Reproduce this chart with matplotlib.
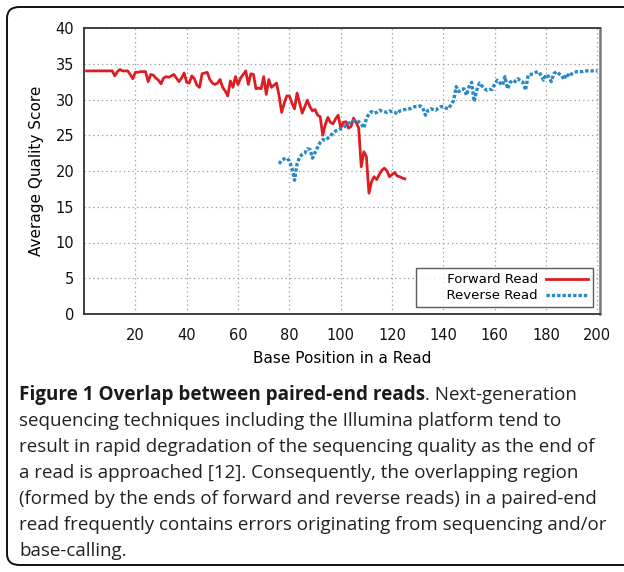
import matplotlib
matplotlib.use("Agg")
import matplotlib.pyplot as plt
from matplotlib.patches import FancyBboxPatch

# forward read, positions 1..125
fwd_pos = list(range(1, 126))
fwd_q = [34.0, 34.0, 34.0, 34.0, 34.0, 34.0, 34.0, 34.0, 34.0, 34.0,
         34.0, 33.3, 33.9, 34.2, 34.0, 34.0, 34.0, 33.5, 32.9, 33.8,
         33.8, 33.9, 33.9, 33.9, 32.5, 33.5, 33.4, 33.0, 32.7, 32.2,
         33.0, 33.2, 33.1, 33.3, 33.5, 33.0, 32.5, 33.0, 33.7, 32.4,
         32.3, 33.3, 32.9, 32.0, 31.7, 33.6, 33.7, 33.8, 32.8, 32.3,
         32.1, 32.3, 32.8, 31.7, 31.2, 30.5, 32.6, 31.7, 33.2, 32.1,
         33.0, 33.5, 34.0, 32.1, 33.6, 33.5, 31.5, 31.6, 31.5, 33.2,
         30.7, 32.8, 31.7, 32.0, 32.3, 30.5, 28.2, 29.5, 30.5, 30.5,
         29.5, 28.7, 30.9, 29.5, 28.1, 29.0, 29.9, 29.0, 28.4, 28.6,
         27.8, 27.6, 25.0, 26.5, 27.5, 26.8, 26.6, 27.3, 27.8, 26.0,
         26.8, 26.9, 26.0, 26.2, 27.4, 26.8, 26.0, 20.6, 22.7, 22.0,
         16.9, 18.5, 19.2, 18.8, 19.5, 20.1, 20.4, 20.0, 19.2, 19.5,
         19.8, 19.3, 19.2, 19.0, 18.9]

# reverse read, positions 76..200
rev_pos = list(range(76, 201))
rev_q = [21.0, 21.5, 21.7, 21.8, 21.4, 20.4, 18.7, 21.0, 22.0, 22.3,
         22.5, 23.1, 23.0, 21.8, 22.6, 23.3, 24.0, 24.4, 24.3, 24.6,
         24.9, 25.3, 25.6, 25.7, 25.9, 26.0, 26.4, 26.7, 26.8, 27.0,
         27.1, 26.9, 26.6, 26.0, 27.3, 28.0, 28.3, 28.1, 28.2, 28.5,
         28.4, 28.3, 28.2, 28.4, 28.3, 28.2, 28.0, 28.4, 28.5, 28.6,
         28.7, 28.7, 28.9, 29.0, 29.0, 29.1, 28.8, 27.8, 28.5, 28.7,
         28.6, 28.5, 28.8, 29.0, 29.0, 28.8, 28.7, 29.3, 29.9, 31.8,
         31.1, 31.4, 31.5, 30.6, 31.8, 32.4, 29.7, 31.3, 32.3, 31.9,
         31.5, 31.3, 31.4, 31.4, 32.2, 32.7, 32.3, 32.0, 33.2, 31.5,
         32.4, 32.7, 32.5, 32.9, 32.6, 32.4, 31.3, 33.4, 33.5, 33.6,
         33.8, 33.9, 33.4, 32.7, 33.5, 33.2, 32.5, 33.6, 33.9, 33.6,
         33.4, 32.8, 33.6, 33.2, 33.6, 33.8, 33.9, 33.9, 33.9, 34.0,
         34.0, 34.0, 34.0, 34.0, 34.0]

xticks = list(range(20, 201, 20))
yticks = list(range(0, 41, 5))

caption_bold = "Figure 1 Overlap between paired-end reads"
caption_lines = [
    ". Next-generation",
    "sequencing techniques including the Illumina platform tend to",
    "result in rapid degradation of the sequencing quality as the end of",
    "a read is approached [12]. Consequently, the overlapping region",
    "(formed by the ends of forward and reverse reads) in a paired-end",
    "read frequently contains errors originating from sequencing and/or",
    "base-calling.",
]

W, H = 624, 572
fig = plt.figure(figsize=(W / 100, H / 100), dpi=100)

# rounded frame around figure + caption
box = FancyBboxPatch((7 / W, 7 / H), 680 / W, 558 / H,
                     boxstyle="round,pad=0,rounding_size=0.02",
                     transform=fig.transFigure, fill=False,
                     edgecolor="#111111", linewidth=1.4)
fig.patches.append(box)

ax = fig.add_axes([84 / W, 1 - 314 / H, 516 / W, 286 / H])
ax.plot(fwd_pos, fwd_q, color="#dc1e24", linewidth=2.0,
        label="     Forward Read")
ax.plot(rev_pos, rev_q, color="#2a88c8", linewidth=2.4,
        linestyle=(0, (1, 0.6)), dash_capstyle="butt",
        label="      Reverse Read")

ax.set_xlim(0, 201)
ax.set_ylim(0, 40)
ax.set_xticks(xticks)
ax.set_yticks(yticks)
ax.tick_params(axis="both", length=0, labelsize=10.5, colors="#111111")
ax.tick_params(axis="x", pad=10)
ax.tick_params(axis="y", pad=7)
ax.grid(True, color="#999999", linestyle=(0, (1, 2.5)), linewidth=0.9)
for s in ax.spines.values():
    s.set_color("#333333")
    s.set_linewidth(1.3)
ax.spines["right"].set_color("#777777")
ax.spines["right"].set_linewidth(1.8)

ax.set_xlabel("Base Position in a Read", fontsize=11, labelpad=6)
ax.set_ylabel("Average Quality Score", fontsize=11, labelpad=8)

leg = ax.legend(loc="lower right", markerfirst=False, fontsize=9.5,
                frameon=True, fancybox=False, borderpad=0.4,
                labelspacing=0.2, handlelength=3.2, handletextpad=0.6,
                borderaxespad=0.5)
leg.get_frame().set_edgecolor("#333333")
leg.get_frame().set_linewidth(1.0)

# caption
normal_font = dict(family="Open Sans", fontsize=13.5, color="#222222")
bold_font = dict(family="Open Sans", fontsize=13.6, color="#1a1a1a",
                 fontweight="bold")
y0 = 1 - 395 / H
step = 26 / H
t = fig.text(19 / W, y0, caption_bold, va="center", **bold_font)
fig.canvas.draw()
bb = t.get_window_extent()
fig.text(bb.x1 / W, y0, caption_lines[0], va="center", **normal_font)
for i, line in enumerate(caption_lines[1:], start=1):
    fig.text(19 / W, y0 - i * step, line, va="center", **normal_font)

fig.savefig("out.png", dpi=100)
